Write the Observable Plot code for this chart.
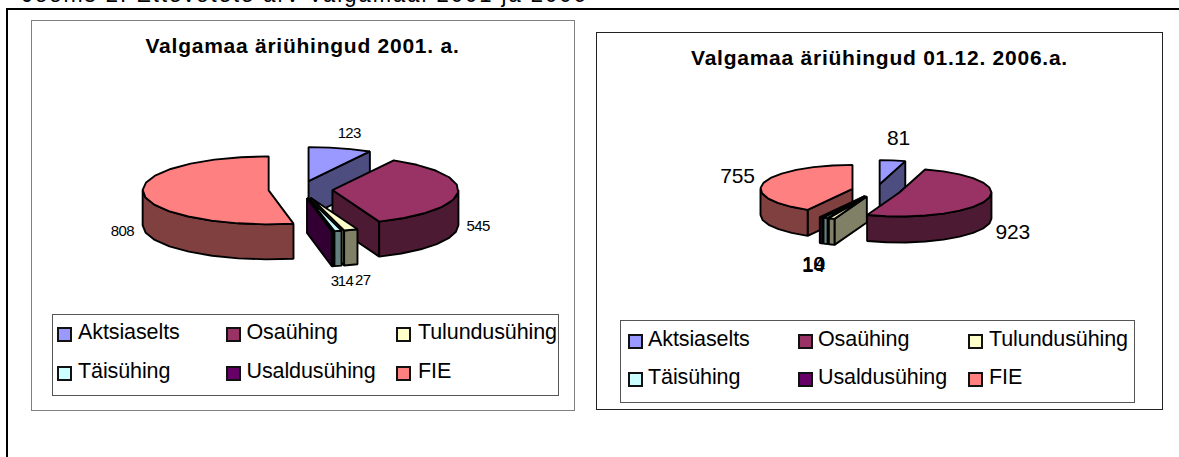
<!DOCTYPE html>
<html>
<head>
<meta charset="utf-8">
<script src="https://cdn.jsdelivr.net/npm/d3@7"></script>
<script src="https://cdn.jsdelivr.net/npm/@observablehq/plot@0.6"></script>
<style>
  html,body{margin:0;padding:0;background:#fff;overflow:hidden;}
  #page{position:relative;width:1179px;height:457px;overflow:hidden;font-family:"Liberation Sans",Arial,sans-serif;color:#000;}
  .abs{position:absolute;box-sizing:border-box;}
  .title{font-weight:bold;white-space:nowrap;transform:translateX(-50%);line-height:20px;}
  .sw{position:absolute;box-sizing:border-box;width:15px;height:15px;border:2px solid #111;}
  .lt{position:absolute;white-space:nowrap;font-size:21.5px;line-height:24px;letter-spacing:-0.1px;}
  svg{position:absolute;left:0;top:0;}
</style>
</head>
<body>
<div id="page"></div>
<script>
// ---- data ----
const categories = ["Aktsiaselts", "Osaühing", "Tulundusühing", "Täisühing", "Usaldusühing", "FIE"];
const values2001 = [123, 545, 27, 14, 3, 808];
const values2006 = [81, 923, 19, 14, 10, 755];
const topColors  = ["#9999FF", "#993366", "#FFFFCC", "#CCFFFF", "#660066", "#FF8080"];
const wallColors = ["#4D4D80", "#4D1A33", "#808066", "#668080", "#330033", "#804040"];
const heading = "Joonis 2. Ettevõtete arv Valgamaal 2001 ja 2006";
const title2001 = "Valgamaa äriühingud 2001. a.";
const title2006 = "Valgamaa äriühingud 01.12. 2006.a.";

// ---- layout ----
const charts = [
  {values: values2001, title: title2001,
   frame: [31, 20, 574, 410], frameColor: "#808080",
   legend: [52, 314, 558, 395], swatchX: [57, 226, 396], textX: [78, 246.5, 418], rowY: [327, 366],
   cx: 300, cy: 189, rx: 126, ry: 34, depth: 35, explode: 32,
   order: [0, 5, 1, 2, 3, 4],
   nudge: [[9,-15],[20,34],[12,50],[7.5,50],[2,50],[-21,37]],
   labelSize: 15, labelSpacing: "-0.6px",
   titleX: 302.5, titleY: 36, titleSize: 21, titleSpacing: "0.75px"},
  {values: values2006, title: title2006,
   frame: [596, 32, 1162, 409], frameColor: "#222",
   legend: [620, 320, 1134, 402], swatchX: [628, 798, 968], textX: [648, 818, 989], rowY: [334, 372],
   cx: 875.7, cy: 190, rx: 92, ry: 24, depth: 26, explode: 24.5,
   order: [0, 5, 4, 3, 2, 1],
   nudge: [[6,-22],[26,32],[-18,46],[-12,47],[-8,47],[-26,-7]],
   labelSize: 21, labelSpacing: "-0.2px",
   titleX: 879.5, titleY: 48, titleSize: 21, titleSpacing: "0.75px"}
];

const page = document.getElementById("page");
function box(l, t, r, b, css) {
  const d = document.createElement("div");
  d.className = "abs";
  d.style.cssText = `left:${l}px;top:${t}px;width:${r - l}px;height:${b - t}px;${css}`;
  page.appendChild(d);
  return d;
}
// outer document frame: only top and left rules are visible
box(6, 8, 1179, 10, "background:#000");
box(6, 8, 8, 457, "background:#000");
const h = box(22, -19, 900, 9, "white-space:nowrap;font-size:22px;line-height:28px;letter-spacing:2px;");
h.textContent = heading;

const deg = Math.PI / 180;
function rim(cx, cy, a, yOff = 0) { return {x: cx + Math.sin(a), y: cy - Math.cos(a) + yOff}; }
function arcAngles(a0, a1) {
  const step = 13 * deg, n = Math.max(1, Math.ceil((a1 - a0) / step)), out = [];
  for (let i = 0; i <= n; i++) out.push(a0 + (a1 - a0) * i / n);
  return out;
}

for (const c of charts) {
  const [fl, ft, fr, fb] = c.frame;
  box(fl, ft, fr + 1, fb + 1, `background:#fff;border:1.5px solid ${c.frameColor};border-bottom-width:1.5px;`);
  const W = fr - fl, H = fb - ft;
  const px = c.cx - fl, py = c.cy - ft;

  const arcs = d3.pie().sort(null)(c.values);
  const d = c.depth / c.ry, e = c.explode / c.rx;
  const faces = [], labels = [];
  const centers = arcs.map(s => {
    const mid = (s.startAngle + s.endAngle) / 2;
    return {mid, x: e * Math.sin(mid), y: -e * Math.cos(mid)};
  });
  for (const i of c.order) {
    const s = arcs[i], m = centers[i], a0 = s.startAngle, a1 = s.endAngle;
    const push = (name, pts, fill) => pts.forEach(p => faces.push({id: i + name, x: p.x, y: p.y, fill}));
    const center = {x: m.x, y: m.y}, centerLow = {x: m.x, y: m.y + d};
    if (Math.sin(a0) < -1e-6) push("s", [center, rim(m.x, m.y, a0), rim(m.x, m.y, a0, d), centerLow], wallColors[i]);
    if (Math.sin(a1) > 1e-6) push("e", [center, rim(m.x, m.y, a1), rim(m.x, m.y, a1, d), centerLow], wallColors[i]);
    const w0 = Math.max(a0, 90 * deg), w1 = Math.min(a1, 270 * deg);
    if (w1 > w0) {
      const as = arcAngles(w0, w1);
      push("w", [...as.map(a => rim(m.x, m.y, a)), ...as.slice().reverse().map(a => rim(m.x, m.y, a, d))], wallColors[i]);
    }
    push("t", [center, ...arcAngles(a0, a1).map(a => rim(m.x, m.y, a))], topColors[i]);
  }
  arcs.forEach((s, i) => {
    const m = centers[i], r = rim(m.x, m.y, m.mid);
    labels.push({x: r.x + c.nudge[i][0] / c.rx, y: r.y + c.nudge[i][1] / c.ry, text: String(s.data)});
  });

  const svg = Plot.plot({
    width: W, height: H, margin: 0,
    x: {axis: null, domain: [-px / c.rx, (W - px) / c.rx], range: [0, W]},
    y: {axis: null, domain: [-py / c.ry, (H - py) / c.ry], range: [0, H]},
    color: {type: "identity"},
    style: {background: "transparent", fontFamily: "'Liberation Sans',Arial,sans-serif", overflow: "visible"},
    marks: [
      Plot.line(faces, {x: "x", y: "y", z: "id", fill: "fill", stroke: "#000", strokeWidth: 1.9, curve: "linear-closed", strokeLinejoin: "miter"}),
      Plot.text(labels, {x: "x", y: "y", text: "text", fontSize: c.labelSize, fill: "#000", textAnchor: "middle", lineAnchor: "middle"})
    ]
  });
  svg.style.left = fl + "px";
  svg.style.top = ft + "px";
  svg.style.letterSpacing = c.labelSpacing;
  svg.style.position = "absolute";
  svg.style.background = "transparent";

  const [ll, lt, lr, lb] = c.legend;
  box(ll, lt, lr + 1, lb + 1, "background:#fff;border:1.5px solid #555;");
  page.appendChild(svg);

  const t = document.createElement("div");
  t.className = "abs title";
  t.textContent = c.title;
  t.style.cssText = `left:${c.titleX}px;top:${c.titleY}px;font-size:${c.titleSize}px;letter-spacing:${c.titleSpacing};`;
  page.appendChild(t);

  categories.forEach((name, i) => {
    const col = i % 3, row = Math.floor(i / 3);
    const sw = document.createElement("div");
    sw.className = "sw";
    sw.style.cssText = `left:${c.swatchX[col]}px;top:${c.rowY[row]}px;background:${topColors[i]};`;
    page.appendChild(sw);
    const lab = document.createElement("div");
    lab.className = "lt";
    lab.textContent = name;
    lab.style.cssText = `left:${c.textX[col]}px;top:${c.rowY[row] - 7}px;`;
    page.appendChild(lab);
  });
}
</script>
</body>
</html>
